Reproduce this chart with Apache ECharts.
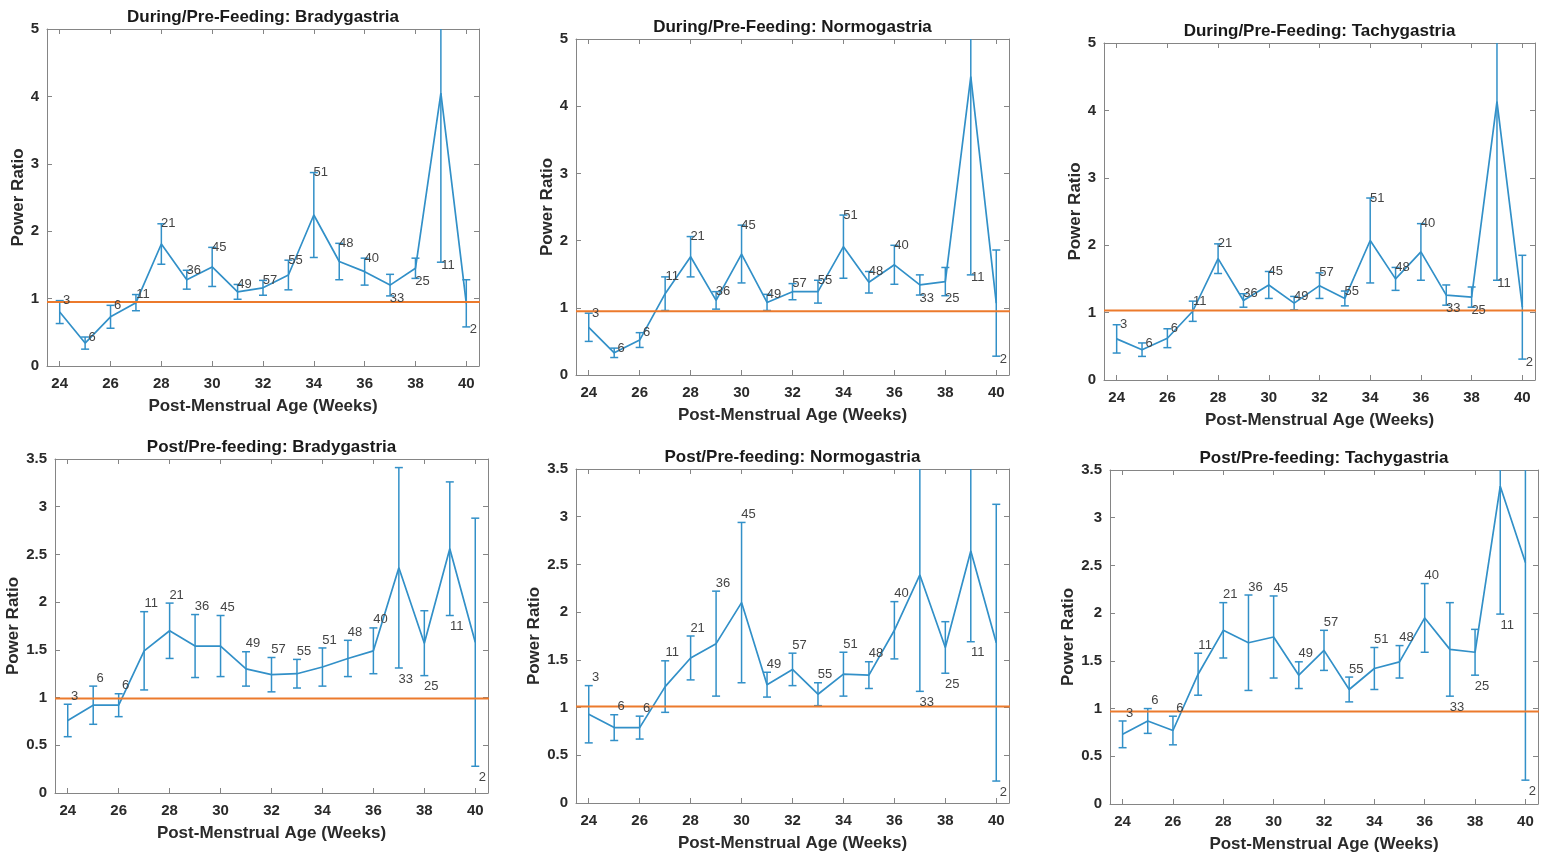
<!DOCTYPE html>
<html>
<head>
<meta charset="utf-8">
<title>Power Ratio vs Post-Menstrual Age</title>
<script src="https://cdn.jsdelivr.net/npm/echarts@6/dist/echarts.min.js"></script>
<style>
  html, body { margin: 0; padding: 0; background: #ffffff; }
  #chart { width: 1551px; height: 854px; }
</style>
</head>
<body>
<div id="chart"></div>
<script>
// ---- data -------------------------------------------------------------
const weeks = [24, 25, 26, 27, 28, 29, 30, 31, 32, 33, 34, 35, 36, 37, 38, 39, 40];
const sampleSizes = [3, 6, 6, 11, 21, 36, 45, 49, 57, 55, 51, 48, 40, 33, 25, 11, 2];

const xTicks = [24, 26, 28, 30, 32, 34, 36, 38, 40];
const yTicksDuring = [0, 1, 2, 3, 4, 5];
const yTicksPost = [0, 0.5, 1, 1.5, 2, 2.5, 3, 3.5];

const panelTitles = [
  'During/Pre-Feeding: Bradygastria',
  'During/Pre-Feeding: Normogastria',
  'During/Pre-Feeding: Tachygastria',
  'Post/Pre-feeding: Bradygastria',
  'Post/Pre-feeding: Normogastria',
  'Post/Pre-feeding: Tachygastria'
];

// mean power ratio and half-width of the error bar, one value per week
const duringBradyMean = [0.80, 0.34, 0.73, 0.94, 1.81, 1.28, 1.47, 1.10, 1.16, 1.35, 2.24, 1.55, 1.40, 1.20, 1.45, 4.05, 0.93];
const duringBradyErr  = [0.17, 0.09, 0.17, 0.12, 0.30, 0.14, 0.29, 0.11, 0.11, 0.22, 0.63, 0.27, 0.20, 0.16, 0.15, 2.51, 0.35];

const duringNormoMean = [0.71, 0.33, 0.52, 1.21, 1.76, 1.11, 1.80, 1.08, 1.24, 1.24, 1.91, 1.38, 1.64, 1.34, 1.39, 4.44, 1.07];
const duringNormoErr  = [0.21, 0.07, 0.11, 0.25, 0.30, 0.13, 0.43, 0.12, 0.12, 0.17, 0.47, 0.16, 0.29, 0.15, 0.21, 2.95, 0.79];

const duringTachyMean = [0.61, 0.45, 0.62, 1.02, 1.80, 1.18, 1.41, 1.14, 1.40, 1.21, 2.07, 1.50, 1.90, 1.26, 1.23, 4.13, 1.08];
const duringTachyErr  = [0.21, 0.10, 0.14, 0.15, 0.22, 0.10, 0.20, 0.10, 0.19, 0.11, 0.63, 0.17, 0.42, 0.15, 0.15, 2.65, 0.77];

const postBradyMean = [0.76, 0.92, 0.92, 1.49, 1.70, 1.54, 1.54, 1.30, 1.24, 1.25, 1.32, 1.41, 1.49, 2.36, 1.57, 2.56, 1.58];
const postBradyErr  = [0.17, 0.20, 0.12, 0.41, 0.29, 0.33, 0.32, 0.18, 0.18, 0.15, 0.20, 0.19, 0.24, 1.05, 0.34, 0.70, 1.30];

const postNormoMean = [0.93, 0.79, 0.79, 1.22, 1.52, 1.67, 2.10, 1.24, 1.40, 1.14, 1.35, 1.34, 1.81, 2.39, 1.63, 2.64, 1.68];
const postNormoErr  = [0.30, 0.135, 0.12, 0.27, 0.23, 0.55, 0.84, 0.13, 0.17, 0.12, 0.23, 0.14, 0.30, 1.22, 0.27, 0.95, 1.45];

const postTachyMean = [0.73, 0.87, 0.77, 1.36, 1.82, 1.69, 1.75, 1.35, 1.61, 1.20, 1.42, 1.49, 1.95, 1.62, 1.59, 3.33, 2.53];
const postTachyErr  = [0.14, 0.13, 0.15, 0.22, 0.29, 0.50, 0.43, 0.14, 0.21, 0.13, 0.22, 0.17, 0.36, 0.49, 0.24, 1.34, 2.28];

// horizontal reference level drawn in each panel
const refLevels = [0.95, 0.95, 1.03, 0.99, 1.01, 0.97];

// ---- layout & style ---------------------------------------------------
const FONT = '"Liberation Sans", Arial, Helvetica, sans-serif';
const BLUE = '#3290c8';
const ORANGE = '#ec7a2c';
const AXIS = '#858585';
const TEXT = '#2a2a2a';
const X_MIN = 23.5, X_MAX = 40.5, REF_END = 40.9;
const LABEL_BELOW_FROM = 37; // sample counts from this week on sit under the bar

const panels = [
  { mean: duringBradyMean, err: duringBradyErr, yTicks: yTicksDuring, box: { left: 47,   top: 29,  width: 432, height: 337 }, row: 0 },
  { mean: duringNormoMean, err: duringNormoErr, yTicks: yTicksDuring, box: { left: 576,  top: 39,  width: 433, height: 336 }, row: 0 },
  { mean: duringTachyMean, err: duringTachyErr, yTicks: yTicksDuring, box: { left: 1104, top: 43,  width: 431, height: 337 }, row: 0 },
  { mean: postBradyMean,   err: postBradyErr,   yTicks: yTicksPost,   box: { left: 55,   top: 459, width: 433, height: 334 }, row: 1 },
  { mean: postNormoMean,   err: postNormoErr,   yTicks: yTicksPost,   box: { left: 576,  top: 469, width: 433, height: 334 }, row: 1 },
  { mean: postTachyMean,   err: postTachyErr,   yTicks: yTicksPost,   box: { left: 1110, top: 470, width: 428, height: 336 }, row: 1 }
];

const option = {
  animation: false,
  backgroundColor: '#ffffff',
  graphic: [],
  grid: [],
  xAxis: [],
  yAxis: [],
  series: []
};

panels.forEach((p, i) => {
  const b = p.box;
  const yMax = p.yTicks[p.yTicks.length - 1];

  option.grid.push({ left: b.left, top: b.top, width: b.width, height: b.height });

  // panel title
  option.graphic.push({
    type: 'text',
    x: b.left + b.width / 2,
    y: b.top - 12,
    style: {
      text: panelTitles[i],
      align: 'center',
      verticalAlign: 'middle',
      font: 'bold 17px ' + FONT,
      fill: '#1a1a1a'
    }
  });

  const lineStyle = { color: AXIS, width: 1 };
  const tickStyle = { show: true, inside: true, length: 5, lineStyle: { color: AXIS } };

  // bottom and top x axes (top one only closes the box)
  option.xAxis.push({
    type: 'value', gridIndex: i, position: 'bottom', min: X_MIN, max: X_MAX,
    splitLine: { show: false },
    axisLine: { show: true, onZero: false, lineStyle },
    axisTick: Object.assign({ customValues: xTicks }, tickStyle),
    axisLabel: { customValues: xTicks, margin: 10, fontFamily: FONT, fontSize: 15, fontWeight: 'bold', color: TEXT },
    name: 'Post-Menstrual Age (Weeks)', nameLocation: 'middle', nameGap: 32,
    nameTextStyle: { fontFamily: FONT, fontSize: 17, fontWeight: 'bold', color: TEXT }
  });
  option.xAxis.push({
    type: 'value', gridIndex: i, position: 'top', min: X_MIN, max: X_MAX,
    splitLine: { show: false },
    axisLine: { show: true, onZero: false, lineStyle },
    axisTick: Object.assign({ customValues: xTicks }, tickStyle),
    axisLabel: { show: false }
  });

  // left and right y axes
  option.yAxis.push({
    type: 'value', gridIndex: i, position: 'left', min: 0, max: yMax,
    splitLine: { show: false },
    axisLine: { show: true, onZero: false, lineStyle },
    axisTick: Object.assign({ customValues: p.yTicks }, tickStyle),
    axisLabel: { customValues: p.yTicks, margin: 8, fontFamily: FONT, fontSize: 15, fontWeight: 'bold', color: TEXT },
    name: 'Power Ratio', nameLocation: 'middle', nameGap: p.row === 0 ? 20 : 32,
    nameTextStyle: { fontFamily: FONT, fontSize: 17, fontWeight: 'bold', color: TEXT }
  });
  option.yAxis.push({
    type: 'value', gridIndex: i, position: 'right', min: 0, max: yMax,
    splitLine: { show: false },
    axisLine: { show: true, onZero: false, lineStyle },
    axisTick: Object.assign({ customValues: p.yTicks }, tickStyle),
    axisLabel: { show: false }
  });

  const xi = 2 * i, yi = 2 * i;

  // error bars: vertical whisker with caps
  option.series.push({
    type: 'custom',
    xAxisIndex: xi, yAxisIndex: yi,
    clip: true,
    z: 3,
    data: weeks.map((w, k) => [w, p.mean[k] - p.err[k], p.mean[k] + p.err[k]]),
    encode: { x: 0, y: [1, 2] },
    renderItem(params, api) {
      const x = api.value(0);
      const lo = api.coord([x, api.value(1)]);
      const hi = api.coord([x, api.value(2)]);
      const hw = 4;
      const style = { stroke: BLUE, lineWidth: 1.5, fill: null };
      return {
        type: 'group',
        children: [
          { type: 'line', shape: { x1: lo[0], y1: lo[1], x2: hi[0], y2: hi[1] }, style },
          { type: 'line', shape: { x1: hi[0] - hw, y1: hi[1], x2: hi[0] + hw, y2: hi[1] }, style },
          { type: 'line', shape: { x1: lo[0] - hw, y1: lo[1], x2: lo[0] + hw, y2: lo[1] }, style }
        ]
      };
    }
  });

  // mean trace
  option.series.push({
    type: 'line',
    xAxisIndex: xi, yAxisIndex: yi,
    data: weeks.map((w, k) => [w, p.mean[k]]),
    showSymbol: false,
    clip: true,
    z: 4,
    lineStyle: { color: BLUE, width: 1.7 }
  });

  // reference level
  option.series.push({
    type: 'line',
    xAxisIndex: xi, yAxisIndex: yi,
    data: [[X_MIN, refLevels[i]], [REF_END, refLevels[i]]],
    showSymbol: false,
    clip: false,
    z: 5,
    lineStyle: { color: ORANGE, width: 2 }
  });

  // sample-size annotations at the end of each error bar
  const dyAbove = p.row === 0 ? 0 : -8;
  const dyBelow = p.row === 0 ? 3 : 11;
  option.series.push({
    type: 'custom',
    xAxisIndex: xi, yAxisIndex: yi,
    clip: false,
    z: 6,
    data: weeks.map((w, k) => {
      const below = w >= LABEL_BELOW_FROM;
      return [w, below ? p.mean[k] - p.err[k] : p.mean[k] + p.err[k], sampleSizes[k], below ? 1 : 0];
    }),
    encode: { x: 0, y: 1 },
    renderItem(params, api) {
      const pt = api.coord([api.value(0), api.value(1)]);
      const below = api.value(3) === 1;
      return {
        type: 'text',
        x: pt[0] + 7,
        y: pt[1] + (below ? dyBelow : dyAbove),
        style: {
          text: String(api.value(2)),
          align: 'center',
          verticalAlign: 'middle',
          font: '13px ' + FONT,
          fill: '#444444'
        }
      };
    }
  });
});

const chart = echarts.init(document.getElementById('chart'), null, { renderer: 'canvas' });
chart.setOption(option);
</script>
</body>
</html>
